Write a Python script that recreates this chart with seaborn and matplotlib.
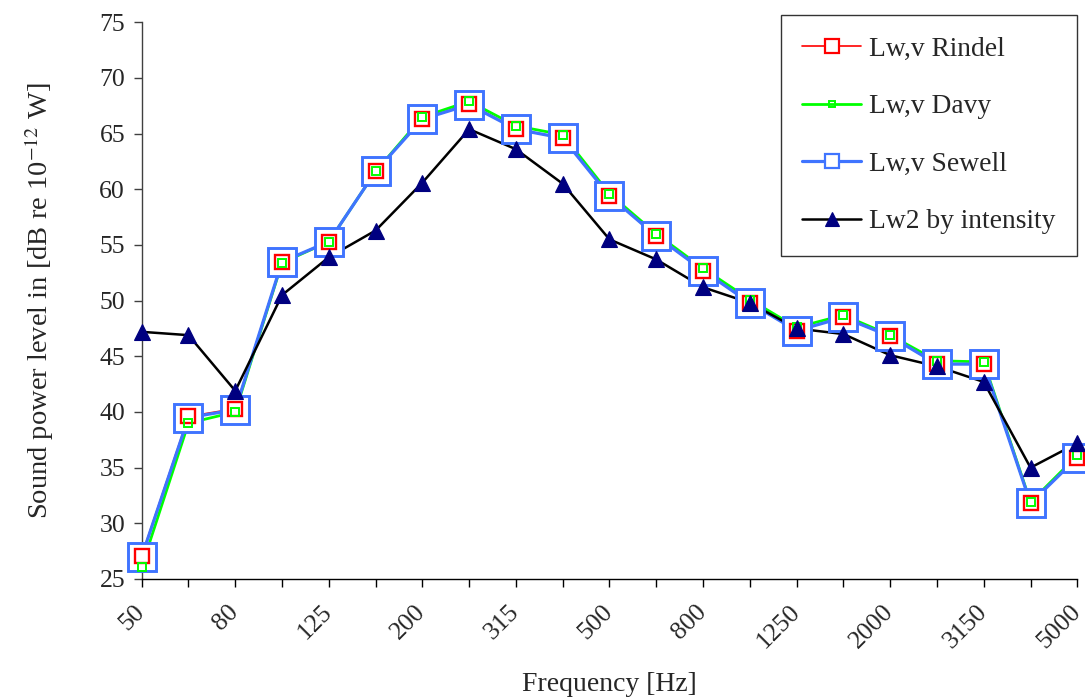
import numpy as np
import pandas as pd
import matplotlib
matplotlib.use("Agg")
import matplotlib.pyplot as plt
from matplotlib.lines import Line2D
import seaborn as sns

# One-third-octave band centre frequencies [Hz]
freqs = [50, 63, 80, 100, 125, 160, 200, 250, 315, 400, 500, 630,
         800, 1000, 1250, 1600, 2000, 2500, 3150, 4000, 5000]
# only every second band is labelled on the axis
freq_labels = [str(f) if i % 2 == 0 else "" for i, f in enumerate(freqs)]

# Sound power levels [dB re 1e-12 W]
lw_rindel = [27.1, 39.6, 40.3, 53.5, 55.3, 61.6, 66.3, 67.7, 65.4, 64.6, 59.4,
             55.8, 52.7, 49.8, 47.3, 48.5, 46.8, 44.3, 44.3, 31.8, 35.9]
lw_davy = [26.1, 39.0, 40.0, 53.4, 55.3, 61.6, 66.5, 67.9, 65.7, 64.9, 59.6,
           56.0, 52.9, 50.1, 47.6, 48.7, 46.9, 44.6, 44.5, 31.9, 36.1]
lw_sewell = [27.0, 39.5, 40.2, 53.5, 55.3, 61.6, 66.3, 67.6, 65.4, 64.6, 59.4,
             55.8, 52.7, 49.8, 47.3, 48.5, 46.8, 44.3, 44.3, 31.8, 35.9]
lw_intensity = [47.2, 46.9, 41.9, 50.5, 53.9, 56.3, 60.6, 65.4, 63.6, 60.5, 55.5,
                53.7, 51.2, 49.8, 47.5, 47.0, 45.1, 44.1, 42.7, 35.0, 37.2]

series_names = ["Lw,v Rindel", "Lw,v Davy", "Lw,v Sewell", "Lw2 by intensity"]

sns.set_theme(style="white")
plt.rcParams["font.family"] = ["Liberation Serif", "DejaVu Serif"]
plt.rcParams["mathtext.fontset"] = "stix"

pos = np.arange(len(freqs))
df = pd.DataFrame({
    "band": pos,
    series_names[0]: lw_rindel,
    series_names[1]: lw_davy,
    series_names[2]: lw_sewell,
    series_names[3]: lw_intensity,
})

fig = plt.figure(figsize=(10.85, 6.97), dpi=100)
ax = fig.add_axes([0.1306, 0.1693, 0.8623, 0.7987])

RED = "#FF0000"
GREEN = "#00FF00"
BLUE = "#3F74FF"
NAVY = "#000080"

line_style = {
    series_names[0]: dict(color=RED, lw=1.2),
    series_names[1]: dict(color=GREEN, lw=2.0),
    series_names[2]: dict(color=BLUE, lw=2.3),
    series_names[3]: dict(color="black", lw=1.8),
}
marker_style = {
    series_names[0]: dict(marker="s", ms=10.5, mew=1.7, mec=RED, mfc="white"),
    series_names[1]: dict(marker="s", ms=5.5, mew=1.4, mec=GREEN, mfc="none"),
    series_names[2]: dict(marker="s", ms=19.5, mew=2.1, mec=BLUE, mfc="white"),
    series_names[3]: dict(marker="^", ms=12, mew=0.8, mec=NAVY, mfc=NAVY),
}
marker_z = {series_names[2]: 4, series_names[0]: 5,
            series_names[1]: 6, series_names[3]: 7}

# connecting lines first, markers drawn above all of them
for name in series_names:
    st = line_style[name]
    sns.lineplot(data=df, x="band", y=name, ax=ax, color=st["color"],
                 linewidth=st["lw"], zorder=3, clip_on=False, legend=False)
for name in [series_names[2], series_names[0], series_names[1], series_names[3]]:
    ms = marker_style[name]
    sns.lineplot(data=df, x="band", y=name, ax=ax, linestyle="none",
                 marker=ms["marker"], markersize=ms["ms"], markeredgewidth=ms["mew"],
                 markeredgecolor=ms["mec"], markerfacecolor=ms["mfc"],
                 zorder=marker_z[name], clip_on=False, legend=False)

ax.set_xlim(0, len(freqs) - 1)
ax.set_ylim(25, 75)
ax.set_yticks(np.arange(25, 76, 5))
ax.set_xticks(pos)
ax.set_xticklabels(freq_labels, rotation=45, ha="right", va="center",
                   rotation_mode="anchor", fontsize=18.5)
ax.tick_params(axis="y", labelsize=18.5, direction="out", length=6, width=1,
               color="#404040", pad=6, left=True)
ax.tick_params(axis="x", direction="out", length=6, width=1, color="black",
               bottom=True, pad=15)

for side in ["top", "right"]:
    ax.spines[side].set_visible(False)
ax.spines["left"].set_color("#404040")
ax.spines["bottom"].set_color("black")
for side in ["left", "bottom"]:
    ax.spines[side].set_linewidth(1.0)

ax.set_xlabel("Frequency [Hz]", fontsize=20, labelpad=14)
ax.set_ylabel(r"Sound power level in [dB re 10$^{-12}$ W]", fontsize=20.5, labelpad=31)

handles = []
for name in series_names:
    ls = line_style[name]
    ms = marker_style[name]
    size = {series_names[0]: 10, series_names[1]: 4.5,
            series_names[2]: 10, series_names[3]: 10}[name]
    handles.append(Line2D([], [], color=ls["color"], lw=ls["lw"],
                          marker=ms["marker"], markersize=size,
                          markeredgewidth=min(ms["mew"], 1.6),
                          markeredgecolor=ms["mec"], markerfacecolor=ms["mfc"]))
leg = ax.legend(handles, series_names, loc="upper right",
                bbox_to_anchor=(1.0, 1.0126), borderaxespad=0,
                fontsize=19.8, frameon=True, fancybox=False, shadow=False,
                handlelength=2.15, handletextpad=0.3, labelspacing=1.17,
                borderpad=0.78, numpoints=1)
leg.get_frame().set_edgecolor("black")
leg.get_frame().set_linewidth(1.0)
leg.set_zorder(10)

fig.savefig("out.png", dpi=100)
